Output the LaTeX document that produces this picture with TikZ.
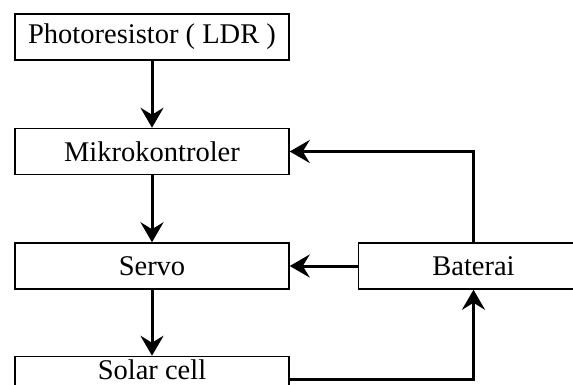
\documentclass[tikz,border=0pt]{standalone}
\usepackage{fontspec}
\setmainfont{Liberation Serif}
\usetikzlibrary{arrows.meta, positioning}

\begin{document}
\begin{tikzpicture}[
  x=1pt, y=1pt,
  block/.style={rectangle, draw=black, line width=1.5pt,
                minimum width=274pt, minimum height=46pt, inner sep=0pt,
                font=\fontsize{28.5}{32}\selectfont},
  arr/.style={-{Stealth[length=20pt, width=23pt, inset=7pt]}, line width=3pt, black},
]
\useasboundingbox (0,0) rectangle (573,-385);

% Main chain
\node[block] (ldr) at (152,-37) {Photoresistor ( LDR )};
\node[block, below=67pt of ldr] (mcu) {Mikrokontroler};
\node[block, below=67pt of mcu] (servo) {Servo};
\node[block, below=66pt of servo] (solar) {\raisebox{10pt}[\height][\depth]{Solar cell}};

% Battery
\node[block, minimum width=230pt, right=68pt of servo] (bat) {Baterai};

% Forward arrows
\draw[arr] (ldr) -- (mcu);
\draw[arr] (mcu) -- (servo);
\draw[arr] (servo) -- (solar);

% Power lines
\draw[arr] (bat) -- (servo);
\draw[arr] (bat.north) |- (mcu.east);
\draw[arr] (solar.east) -| (bat.south);

\end{tikzpicture}
\end{document}
